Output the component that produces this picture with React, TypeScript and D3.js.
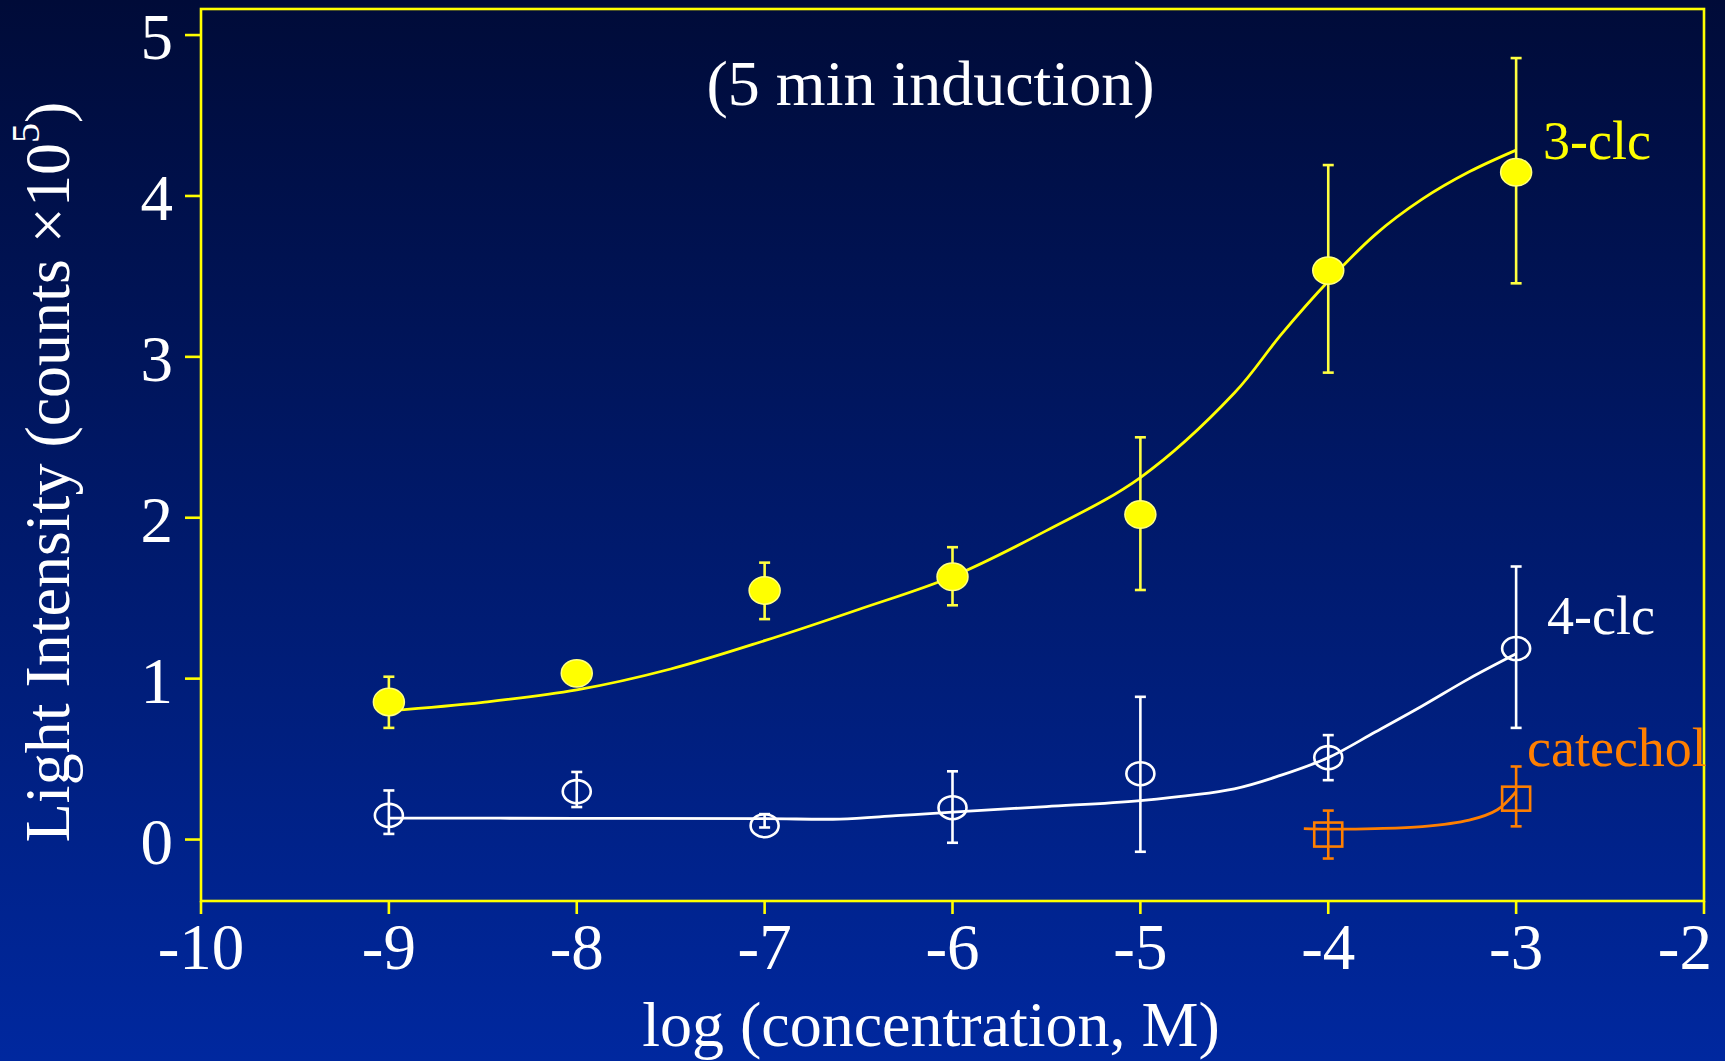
import React from "react";
import * as d3 from "d3";

// ---- data ----
const xTicks = [-10, -9, -8, -7, -6, -5, -4, -3, -2];
const yTicks = [0, 1, 2, 3, 4, 5];

const concX = [-9, -8, -7, -6, -5, -4, -3];

const clc3Mean = [0.855, 1.033, 1.548, 1.633, 2.02, 3.536, 4.147];
const clc3Hi = [1.012, 1.033, 1.721, 1.817, 2.5, 4.192, 4.857];
const clc3Lo = [0.694, 1.033, 1.37, 1.456, 1.551, 2.902, 3.457];

const clc4Mean = [0.15, 0.298, 0.086, 0.198, 0.409, 0.509, 1.187];
const clc4Hi = [0.305, 0.42, 0.158, 0.424, 0.887, 0.649, 1.697];
const clc4Lo = [0.035, 0.202, 0.075, -0.02, -0.076, 0.369, 0.694];

const catX = [-4, -3];
const catMean = [0.031, 0.254];
const catHi = [0.18, 0.454];
const catLo = [-0.118, 0.082];

const fit3X = [-9, -8.5, -8, -7.5, -7, -6.5, -6, -5.5, -5, -4.5, -4.25, -4, -3.75, -3.5, -3.25, -3];
const fit3Y = [0.8, 0.853, 0.93, 1.06, 1.236, 1.43, 1.635, 1.92, 2.25, 2.775, 3.14, 3.47, 3.76, 3.98, 4.15, 4.285];

const fit4X = [-9, -8, -7, -6.6, -6.3, -6, -5.5, -5, -4.5, -4.25, -4, -3.75, -3.5, -3.25, -3];
const fit4Y = [0.133, 0.132, 0.13, 0.127, 0.148, 0.171, 0.205, 0.242, 0.315, 0.4, 0.509, 0.668, 0.83, 1.0, 1.154];

const fitCatX = [-4.13, -4, -3.75, -3.5, -3.25, -3.1, -3];
const fitCatY = [0.068, 0.065, 0.068, 0.08, 0.12, 0.185, 0.298];

// ---- layout ----
const W = 1725;
const H = 1061;
const L = 201, R = 1704, T = 9, B = 901;
const FONT = '"Liberation Serif", "Times New Roman", serif';
const YELLOW = "#ffff00";
const ORANGE = "#ff7f00";
const WHITE = "#ffffff";

const x = d3.scaleLinear().domain([-10, -2]).range([L, R]);
const y = d3.scaleLinear().domain([-0.382, 5.162]).range([B, T]);

const line = d3
  .line<[number, number]>()
  .x((d) => x(d[0]))
  .y((d) => y(d[1]))
  .curve(d3.curveCatmullRom.alpha(0.5));

function zip(a: number[], b: number[]): [number, number][] {
  return a.map((v, i) => [v, b[i]]);
}

function ErrorBars({ xs, hi, lo, color }: { xs: number[]; hi: number[]; lo: number[]; color: string }) {
  return (
    <g stroke={color} strokeWidth={2.6} fill="none">
      {xs.map((xv, i) => {
        const cx = x(xv);
        const y1 = y(hi[i]);
        const y2 = y(lo[i]);
        if (Math.abs(y1 - y2) < 0.5) return null;
        return (
          <g key={i}>
            <line x1={cx} x2={cx} y1={y1} y2={y2} />
            <line x1={cx - 5.5} x2={cx + 5.5} y1={y1} y2={y1} />
            <line x1={cx - 5.5} x2={cx + 5.5} y1={y2} y2={y2} />
          </g>
        );
      })}
    </g>
  );
}

export default function App() {
  const last = xTicks[xTicks.length - 1];
  return (
    <svg
      width={W}
      height={H}
      viewBox={`0 0 ${W} ${H}`}
      style={{ position: "absolute", left: 0, top: 0, display: "block" }}
    >
      <defs>
        <linearGradient id="bg" x1="0" y1="0" x2="0" y2="1">
          <stop offset="0" stopColor="#000b38" />
          <stop offset="1" stopColor="#00289f" />
        </linearGradient>
      </defs>
      <rect x={0} y={0} width={W} height={H} fill="url(#bg)" />

      {/* frame */}
      <rect x={L} y={T} width={R - L} height={B - T} fill="none" stroke={YELLOW} strokeWidth={2.6} />

      {/* ticks */}
      <g stroke={YELLOW} strokeWidth={2.6}>
        {yTicks.map((t) => (
          <line key={t} x1={L - 16} x2={L} y1={y(t)} y2={y(t)} />
        ))}
        {xTicks.map((t) => (
          <line key={t} x1={x(t)} x2={x(t)} y1={B} y2={B + 13} />
        ))}
      </g>
      <g fill={WHITE} fontFamily={FONT} fontSize={65}>
        {yTicks.map((t) => (
          <text key={t} x={173} y={y(t) + 24} textAnchor="end">
            {t}
          </text>
        ))}
        {xTicks.map((t) => (
          <text
            key={t}
            x={t === last ? x(t) + 8 : x(t)}
            y={969}
            textAnchor={t === last ? "end" : "middle"}
          >
            {String(t)}
          </text>
        ))}
      </g>

      {/* axis titles */}
      <text x={931} y={1046} textAnchor="middle" fill={WHITE} fontFamily={FONT} fontSize={64}>
        log (concentration, M)
      </text>
      <text
        transform="translate(69,472) rotate(-90)"
        textAnchor="middle"
        fill={WHITE}
        fontFamily={FONT}
        fontSize={64}
      >
        Light Intensity (counts ×10
        <tspan fontSize={40} dy={-30}>5</tspan>
        <tspan dy={30}>)</tspan>
      </text>

      {/* chart title */}
      <text x={930.5} y={105} textAnchor="middle" fill={WHITE} fontFamily={FONT} fontSize={64}>
        (5 min induction)
      </text>

      {/* fitted curves */}
      <path d={line(zip(fit3X, fit3Y)) || ""} fill="none" stroke={YELLOW} strokeWidth={2.8} />
      <path d={line(zip(fit4X, fit4Y)) || ""} fill="none" stroke={WHITE} strokeWidth={2.8} />
      <path d={line(zip(fitCatX, fitCatY)) || ""} fill="none" stroke={ORANGE} strokeWidth={2.8} />

      {/* error bars */}
      <ErrorBars xs={concX} hi={clc3Hi} lo={clc3Lo} color="#ffff40" />
      <ErrorBars xs={concX} hi={clc4Hi} lo={clc4Lo} color={WHITE} />
      <ErrorBars xs={catX} hi={catHi} lo={catLo} color={ORANGE} />

      {/* markers */}
      {concX.map((xv, i) => (
        <ellipse
          key={"y" + i}
          cx={x(xv)}
          cy={y(clc3Mean[i])}
          rx={15.5}
          ry={13.7}
          fill={YELLOW}
          stroke="#ffff80"
          strokeWidth={1.5}
        />
      ))}
      {concX.map((xv, i) => (
        <ellipse
          key={"w" + i}
          cx={x(xv)}
          cy={y(clc4Mean[i])}
          rx={14}
          ry={11.5}
          fill="none"
          stroke={WHITE}
          strokeWidth={2.6}
        />
      ))}
      {catX.map((xv, i) => (
        <rect
          key={"c" + i}
          x={x(xv) - 14}
          y={y(catMean[i]) - 12}
          width={28}
          height={24}
          fill="none"
          stroke={ORANGE}
          strokeWidth={2.6}
        />
      ))}

      {/* series labels */}
      <g fontFamily={FONT} fontSize={54}>
        <text x={1543} y={159} fill={YELLOW}>3-clc</text>
        <text x={1547} y={634} fill={WHITE}>4-clc</text>
        <text x={1527} y={766} fill={ORANGE}>catechol</text>
      </g>
    </svg>
  );
}
